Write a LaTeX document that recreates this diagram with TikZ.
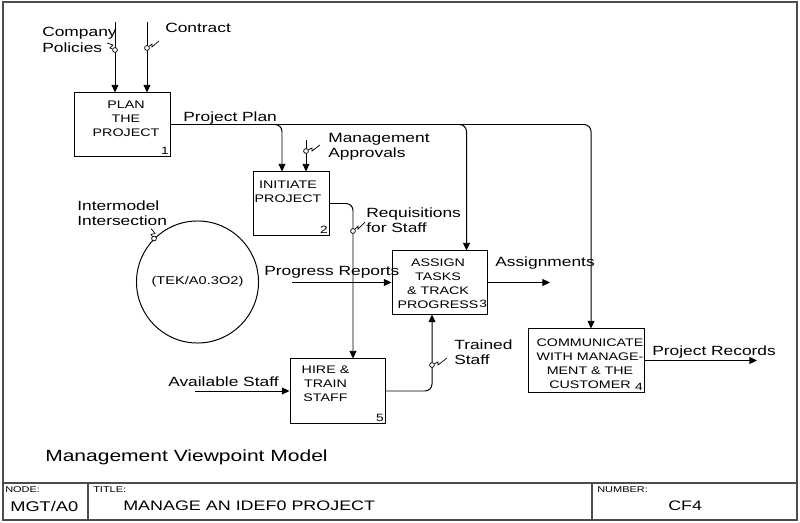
\documentclass[tikz,border=0pt]{standalone}
\usepackage{fontspec}
\usepackage{tikz}
\usetikzlibrary{arrows.meta, positioning, calc, shapes.geometric}
\newfontfamily\idef[FakeStretch=1.3]{Liberation Sans}

\begin{document}
\begin{tikzpicture}[
    x=0.025cm, y=-0.025cm,
    func/.style={draw, line width=0.7pt, minimum width=2.375cm, minimum height=1.575cm, inner sep=0pt},
    ftxt/.style={font=\idef\fontsize{7.8}{10}\selectfont, align=center, inner sep=0pt},
    num/.style={font=\idef\fontsize{7.5}{8}\selectfont, anchor=south east, inner sep=1pt},
    lbl/.style={font=\idef\fontsize{9.5}{10.8}\selectfont, align=left, anchor=west, inner sep=0pt},
    tiny/.style={font=\idef\fontsize{6}{7}\selectfont, anchor=west, inner sep=0pt},
    tun/.style={circle, draw, fill=white, line width=0.5pt, inner sep=0pt, minimum size=0.12cm},
    arr/.style={-{Triangle[length=5.5pt,width=5pt]}, line width=0.7pt},
    sq/.style={line width=0.5pt},
    frame/.style={draw=black!70, line width=0.8pt}
]
\useasboundingbox (0,0) rectangle (800,523);

% frame and title block
\draw[frame] (3,2) rectangle (797,520);
\draw[frame] (3,483) -- (797,483);
\draw[frame] (88,483) -- (88,520);
\draw[frame] (592,483) -- (592,520);

% activity boxes
\node[func] (plan) at (122.5,124.5) {};
\node[ftxt] (plan-t) at ($(plan)+(3.5,-5.5)$) {PLAN\\THE\\PROJECT};
\node[num] (plan-n) at (plan.south east) {1};

\node[func, minimum width=1.9cm] (initiate) at (291,203.5) {};
\node[ftxt] (initiate-t) at ($(initiate)+(-3,-12)$) {INITIATE\\PROJECT};
\node[num] (initiate-n) at (initiate.south east) {2};

\node[func] (assign) at (439.5,282.5) {};
\node[ftxt] (assign-t) at ($(assign)+(-1.5,1.5)$) {ASSIGN\\TASKS\\\& TRACK\\PROGRESS};
\node[num, anchor=south west, inner sep=0pt] (assign-n) at ($(assign-t.south east)+(0.5,-1)$) {3};

\node[func, minimum width=2.9cm] (comm) at (586,360.5) {};
\node[ftxt] (comm-t) at ($(comm)+(4,3.5)$) {COMMUNICATE\\WITH MANAGE-\\MENT \& THE\\CUSTOMER};
\node[num] (comm-n) at (comm.south east) {4};

\node[func, minimum height=1.6cm] (hire) at (337.5,391) {};
\node[ftxt] (hire-t) at ($(hire)+(-12,-7)$) {HIRE \&\\TRAIN\\STAFF};
\node[num] (hire-n) at (hire.south east) {5};

% intermodel reference
\node[circle, draw, line width=0.7pt, minimum size=3.05cm, inner sep=0pt,
      font=\idef\fontsize{8}{9}\selectfont] (tek) at (197.5,282) {(TEK/A0.3O2)};

% free ends
\coordinate (pol-src) at (115,22);
\coordinate (con-src) at (147,22);
\coordinate (mgt-src) at (306,140);
\coordinate (prog-src) at (292,282.5);
\coordinate (avl-src) at (195,391);
\coordinate (asg-end) at (550,282.5);
\coordinate (rec-end) at (757,360.5);

% arrows
\draw[arr] (pol-src) -- (pol-src |- plan.north);
\draw[arr] (con-src) -- (con-src |- plan.north);
\draw[arr, rounded corners=5] (plan.east) -| ($(initiate.north)+(-9,0)$);
\draw[arr, rounded corners=5] (plan.east) -| ($(assign.north)+(27,0)$);
\draw[arr, rounded corners=5] (plan.east) -| ($(comm.north)+(5,0)$);
\draw[arr] (mgt-src) -- (mgt-src |- initiate.north);
\draw[arr, rounded corners=5] (initiate.east) -| ($(hire.north)+(15.5,0)$);
\draw[arr] (prog-src) -- (assign.west);
\draw[arr] (assign.east) -- (asg-end);
\draw[arr] (avl-src) -- (hire.west);
\draw[arr, rounded corners=5] (hire.east) -| ($(assign.south)+(-7.5,0)$);
\draw[arr] (comm.east) -- (rec-end);

% squiggles and tunnel dots
\node[tun] (pol-tun) at (115,50) {};
\node[tun] (con-tun) at (147,48) {};
\node[tun] (mgt-tun) at (306,151) {};
\node[tun] (req-tun) at (353,231) {};
\node[tun] (trn-tun) at (432,365) {};
\node[tun] (int-tun) at (tek.135) {};
\draw[sq] (pol-tun) -- ++(-5,-2) -- ++(3,-3) -- ++(-6,-2);
\draw[sq] (con-tun) -- ++(5,-4) -- ++(0,3) -- ++(7,-6);
\draw[sq] (mgt-tun) -- ++(6,-3) -- ++(0,3) -- ++(8,-6);
\draw[sq] (req-tun) -- ++(5,-5) -- ++(0,3) -- ++(7,-7);
\draw[sq] (trn-tun) -- ++(6,-3) -- ++(0,3) -- ++(9,-7);
\draw[sq] (int-tun) -- ++(-3,-4) -- ++(4,-1) -- ++(-4,-5);

% labels
\node[lbl] (pol-l) at (42,40) {Company\\Policies};
\node[lbl] (con-l) at (165,28) {Contract};
\node[lbl] (plan-l) at (183,118) {Project Plan};
\node[lbl] (mgt-l) at (328,147) {Management\\Approvals};
\node[lbl] (req-l) at (366,220) {Requisitions\\for Staff};
\node[lbl] (int-l) at (77,213) {Intermodel\\Intersection};
\node[lbl] (prog-l) at (264,272) {Progress Reports};
\node[lbl] (asg-l) at (495,263) {Assignments};
\node[lbl] (trn-l) at (454,352) {Trained\\Staff};
\node[lbl] (avl-l) at (168,382) {Available Staff};
\node[lbl] (rec-l) at (652,352) {Project Records};

\node[lbl, font=\idef\fontsize{11.5}{13}\selectfont] (model) at (45,457) {Management Viewpoint Model};

% title block
\node[tiny] (node-h) at (5,490) {NODE:};
\node[tiny] (title-h) at (93,490) {TITLE:};
\node[tiny] (number-h) at (597,490) {NUMBER:};
\node[lbl, font=\idef\fontsize{10}{11}\selectfont] (node-v) at (10,506) {MGT/A0};
\node[lbl, font=\idef\fontsize{9.8}{11}\selectfont] (title-v) at (123,506) {MANAGE AN IDEF0 PROJECT};
\node[lbl, font=\idef\fontsize{9.8}{11}\selectfont] (number-v) at (668,506) {CF4};

\end{tikzpicture}
\end{document}
